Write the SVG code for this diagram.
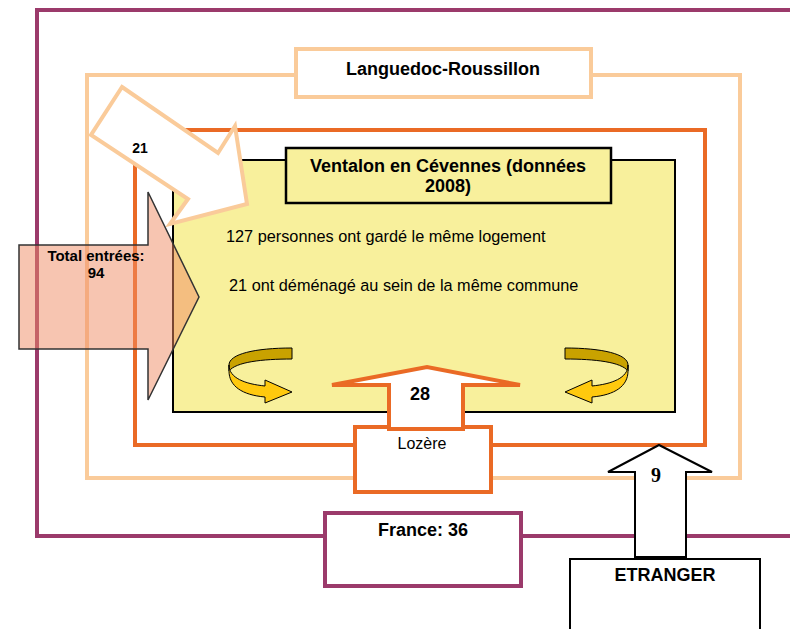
<svg xmlns="http://www.w3.org/2000/svg" width="790" height="629" viewBox="0 0 790 629">
<style>
text{font-family:"Liberation Sans",Arial,sans-serif;fill:#000}
.b{font-weight:bold}
.frame{fill:none;stroke-width:4}
</style>
<rect width="790" height="629" fill="#fff"/>
<g id="france-frame"><rect class="frame" x="37" y="10" width="770" height="526" stroke="#9B3A6B"/></g>
<g id="languedoc-frame"><rect class="frame" x="87" y="75" width="653" height="403" stroke="#FACB9A"/></g>
<g id="lozere-frame"><rect class="frame" x="135" y="130" width="570" height="315" stroke="#EA6A25"/></g>
<g id="ventalon">
<rect x="173" y="160" width="502" height="252" fill="#F8F09C" stroke="#000" stroke-width="2"/>
<rect x="286" y="148" width="325" height="55" fill="#F8F09C" stroke="#000" stroke-width="2.5"/>
<text class="b" x="448" y="172" font-size="18" text-anchor="middle">Ventalon en Cévennes (données</text>
<text class="b" x="448" y="192" font-size="18" text-anchor="middle">2008)</text>
<text x="226" y="242" font-size="16.3">127 personnes ont gardé le même logement</text>
<text x="229" y="291" font-size="16.3">21 ont déménagé au sein de la même commune</text>
</g>
<g id="languedoc-label">
<rect x="296" y="49" width="295" height="48" fill="#fff" stroke="#FACB9A" stroke-width="4"/>
<text class="b" x="443" y="75" font-size="18" text-anchor="middle">Languedoc-Roussillon</text>
</g>
<g id="lozere-label">
<rect x="355" y="427" width="136" height="65" fill="#fff" stroke="#EA6A25" stroke-width="4"/>
<text x="422" y="449" font-size="16" text-anchor="middle">Lozère</text>
</g>
<g id="france-label">
<rect x="325" y="513" width="196" height="73" fill="#fff" stroke="#9B3A6B" stroke-width="4"/>
<text class="b" x="423" y="536" font-size="18" text-anchor="middle">France: 36</text>
</g>
<g id="etranger-label">
<rect x="570" y="559" width="190" height="72" fill="#fff" stroke="#000" stroke-width="2"/>
<text class="b" x="665" y="581" font-size="18" text-anchor="middle">ETRANGER</text>
</g>
<g id="connectors">
<g id="arrow-21">
<polygon points="122,87 218,153 235,126 247,204 170,224 188,199 91,135" fill="#fff" stroke="#FACB9A" stroke-width="4" stroke-linejoin="miter"/>
<text class="b" x="140" y="153" font-size="14" text-anchor="middle">21</text>
</g>
<g id="arrow-total">
<polygon points="19,245 148,245 148,192 199,297 148,400 148,349 19,349" fill="#F08C64" fill-opacity="0.5" stroke="#333" stroke-width="1.5"/>
<text class="b" x="96" y="261" font-size="15" text-anchor="middle">Total entrées:</text>
<text class="b" x="96" y="278" font-size="15" text-anchor="middle">94</text>
</g>
<g id="arrow-28">
<polygon points="389,429 389,385 332,385 427,367 520,385 463,385 463,429" fill="#fff" stroke="#EA6A25" stroke-width="4"/>
<text class="b" x="420" y="400" font-size="18" text-anchor="middle">28</text>
</g>
<g id="arrow-9">
<polygon points="635,557 635,472 608,472 659,445 712,472 686,472 686,557" fill="#fff" stroke="#000" stroke-width="2"/>
<text x="651" y="482" font-size="20" font-weight="bold" style="font-family:'Liberation Serif','Times New Roman',serif">9</text>
</g>
<g id="loop-left">
<path d="M229,365 C229,354 255,348 292,348 L292,359 C262,359 236,362 229,371 Z" fill="#C9A200" stroke="#000" stroke-width="1"/>
<path d="M229,365 C229,378 245,384 265,386 L265,380 L292,392 L265,403 L265,397 C242,395 229,386 229,371 Z" fill="#FFC90E" stroke="#000" stroke-width="1"/>
</g>
<g id="loop-right" transform="translate(857,0) scale(-1,1)">
<path d="M229,365 C229,354 255,348 292,348 L292,359 C262,359 236,362 229,371 Z" fill="#C9A200" stroke="#000" stroke-width="1"/>
<path d="M229,365 C229,378 245,384 265,386 L265,380 L292,392 L265,403 L265,397 C242,395 229,386 229,371 Z" fill="#FFC90E" stroke="#000" stroke-width="1"/>
</g>
</g>
</svg>
